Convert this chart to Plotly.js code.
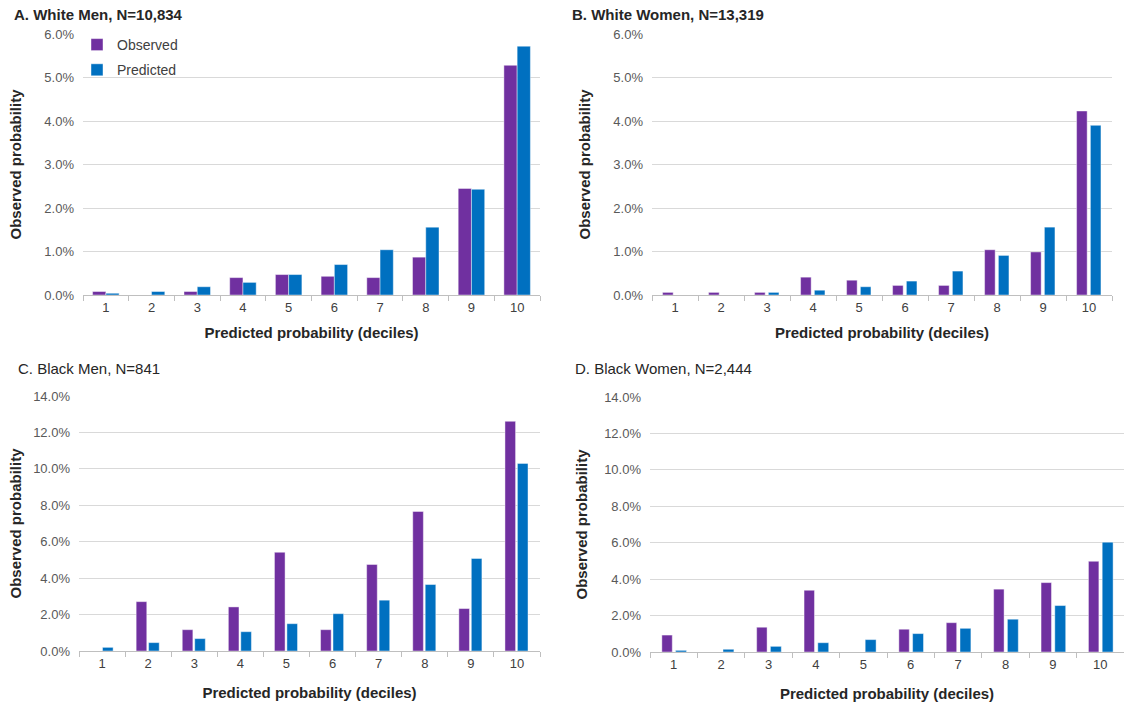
<!DOCTYPE html>
<html>
<head>
<meta charset="utf-8">
<script src="https://cdn.plot.ly/plotly-3.0.1.min.js"></script>
<style>html,body{margin:0;padding:0;background:#fff;}#chart{width:1124px;height:706px;}</style>
</head>
<body>
<div id="chart"></div>
<script>
// ---- data (percent) ----
var deciles = ['1','2','3','4','5','6','7','8','9','10'];
var panelTitles = ['A. White Men, N=10,834', 'B. White Women, N=13,319', 'C. Black Men, N=841', 'D. Black Women, N=2,444'];
var seriesNames = ['Observed', 'Predicted'];
var whiteMenObserved   = [0.08, 0, 0.08, 0.40, 0.47, 0.43, 0.40, 0.87, 2.45, 5.28];
var whiteMenPredicted  = [0.04, 0.08, 0.19, 0.29, 0.47, 0.70, 1.04, 1.56, 2.43, 5.72];
var whiteWomenObserved  = [0.06, 0.06, 0.06, 0.41, 0.34, 0.22, 0.22, 1.04, 0.99, 4.23];
var whiteWomenPredicted = [0, 0, 0.06, 0.11, 0.19, 0.32, 0.55, 0.91, 1.56, 3.90];
var blackMenObserved   = [0, 2.71, 1.17, 2.42, 5.42, 1.17, 4.75, 7.66, 2.33, 12.61];
var blackMenPredicted  = [0.20, 0.46, 0.68, 1.06, 1.50, 2.05, 2.79, 3.65, 5.08, 10.30];
var blackWomenObserved  = [0.93, 0, 1.36, 3.39, 0, 1.25, 1.61, 3.45, 3.81, 4.98];
var blackWomenPredicted = [0.09, 0.15, 0.31, 0.51, 0.68, 1.01, 1.30, 1.80, 2.55, 6.03];
var xTitle = 'Predicted probability (deciles)';
var yTitle = 'Observed probability';

// ---- style ----
var W = 1124, H = 706;
var purple = '#7030A0', blue = '#0070C0';
var FONT = 'Liberation Sans, Arial, sans-serif';
function px(x){ return x / W; }
function py(y){ return 1 - y / H; }

var panels = [
  {obs: whiteMenObserved, pred: whiteMenPredicted, xa:'x', ya:'y', dom:[83,540,34,295], ymax:6, dt:1,
   w:[0.29,0.29], off:[-0.29,0.0], legend:true, title:[12,15], bold:true, ystand:19},
  {obs: whiteWomenObserved, pred: whiteWomenPredicted, xa:'x2', ya:'y2', dom:[652,1112,34,295], ymax:6, dt:1,
   w:[0.23,0.23], off:[-0.27,0.03], legend:false, title:[570,15], bold:true, ystand:19},
  {obs: blackMenObserved, pred: blackMenPredicted, xa:'x3', ya:'y3', dom:[79,540,396,651], ymax:14, dt:2,
   w:[0.23,0.23], off:[-0.26,0.01], legend:false, title:[16,368], bold:false, ystand:7},
  {obs: blackWomenObserved, pred: blackWomenPredicted, xa:'x4', ya:'y4', dom:[650,1124,397,652], ymax:14, dt:2,
   w:[0.22,0.23], off:[-0.25,0.04], legend:false, title:[573,368], bold:false, ystand:12}
];

var traces = [];
var layout = {
  width: W, height: H,
  margin: {l:0, r:0, t:0, b:0},
  paper_bgcolor: '#ffffff', plot_bgcolor: '#ffffff',
  font: {family: FONT, size: 13, color: '#595959'},
  showlegend: true,
  legend: {x: px(77), y: py(29), xanchor: 'left', yanchor: 'top',
           bgcolor: 'rgba(0,0,0,0)', font: {family: FONT, size: 14, color: '#404040'},
           tracegroupgap: 4, itemclick: false},
  annotations: []
};

panels.forEach(function(p, i){
  var cols = [purple, blue];
  var groups = ['obs', 'pred'];
  [p.obs, p.pred].forEach(function(vals, k){
    traces.push({
      type: 'bar', x: deciles, y: vals, name: seriesNames[k],
      xaxis: p.xa, yaxis: p.ya,
      width: p.w[k], offset: p.off[k],
      legendgroup: groups[k],
      marker: {color: cols[k], line: {color: 'rgba(255,255,255,0.55)', width: 0.8}},
      showlegend: p.legend, hoverinfo: 'y'
    });
  });
  var sfx = i === 0 ? '' : String(i + 1);
  layout['xaxis' + sfx] = {
    domain: [px(p.dom[0]), px(p.dom[1])],
    anchor: 'y' + sfx,
    type: 'category',
    range: [-0.5, 9.5],
    showline: true, linecolor: '#bfbfbf', linewidth: 1,
    ticks: 'outside', tickson: 'boundaries', ticklen: 5, tickcolor: '#bfbfbf',
    showgrid: false, zeroline: false,
    tickfont: {family: FONT, size: 13, color: '#404040'},
    title: {text: xTitle, font: {family: FONT, size: 15, color: '#262626', weight: 'bold'},
            standoff: i < 2 ? 13 : 17}
  };
  layout['yaxis' + sfx] = {
    domain: [py(p.dom[3]), py(p.dom[2])],
    anchor: 'x' + sfx,
    range: [0, p.ymax], dtick: p.dt, tick0: 0,
    tickformat: '.1f', ticksuffix: '%',
    showgrid: true, gridcolor: '#d9d9d9', gridwidth: 1,
    zeroline: false, showline: false, ticks: '',
    ticklabelstandoff: 8,
    tickfont: {family: FONT, size: 13, color: '#595959'},
    title: {text: yTitle, font: {family: FONT, size: 15, color: '#262626', weight: 'bold'},
            standoff: p.ystand}
  };
  layout.annotations.push({
    xref: 'paper', yref: 'paper', x: px(p.title[0]), y: py(p.title[1]),
    xanchor: 'left', yanchor: 'middle', showarrow: false,
    text: p.bold ? '<b>' + panelTitles[i] + '</b>' : panelTitles[i],
    font: {family: FONT, size: 15, color: '#262626'}
  });
});

Plotly.newPlot('chart', traces, layout, {displayModeBar: false, staticPlot: true});
</script>
</body>
</html>
